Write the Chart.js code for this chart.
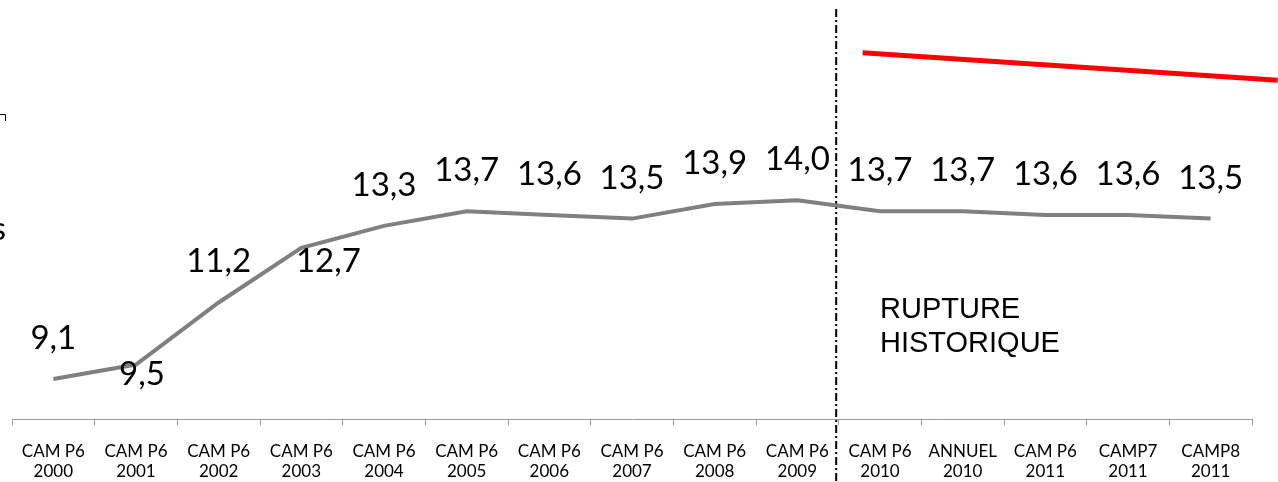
<!DOCTYPE html>
<html>
<head>
<meta charset="utf-8">
<script src="https://cdn.jsdelivr.net/npm/chart.js@4/dist/chart.umd.min.js"></script>
<style>
  html, body { margin: 0; padding: 0; background: #fff; }
  #wrap { width: 1278px; height: 482px; position: relative; overflow: hidden; }
</style>
</head>
<body>
<div id="wrap"><canvas id="chart"></canvas></div>
<script>
const periods = [
  ["CAM P6", "2000"], ["CAM P6", "2001"], ["CAM P6", "2002"], ["CAM P6", "2003"],
  ["CAM P6", "2004"], ["CAM P6", "2005"], ["CAM P6", "2006"], ["CAM P6", "2007"],
  ["CAM P6", "2008"], ["CAM P6", "2009"], ["CAM P6", "2010"], ["ANNUEL", "2010"],
  ["CAM P6", "2011"], ["CAMP7", "2011"], ["CAMP8", "2011"]
];
const values = [9.1, 9.5, 11.2, 12.7, 13.3, 13.7, 13.6, 13.5, 13.9, 14.0, 13.7, 13.7, 13.6, 13.6, 13.5];

// red trend line (x in category index units)
const trendX = [9.79, 14.81];
const trendY = [18.05, 17.29];

// break between series
const breakX = 9.47;
const breakY = [19.25, 6.2];

// nudges for labels that sit off the default spot
const labelShift = { 1: [6, 51], 3: [27, 54] };

const valueLabels = {
  id: "valueLabels",
  afterDatasetsDraw(chart) {
    const { ctx } = chart;
    const meta = chart.getDatasetMeta(0);
    ctx.save();
    ctx.font = "33px Lato";
    ctx.fillStyle = "#000";
    ctx.textAlign = "center";
    ctx.textBaseline = "alphabetic";
    meta.data.forEach((pt, i) => {
      const s = labelShift[i] || [0, 0];
      const txt = values[i].toFixed(1).replace(".", ",");
      ctx.fillText(txt, pt.x + s[0], pt.y - 30 + s[1]);
    });
    ctx.restore();
  }
};

const notes = {
  id: "notes",
  afterDraw(chart) {
    const { ctx } = chart;
    ctx.save();
    ctx.fillStyle = "#000";
    ctx.font = "29px 'Liberation Sans'";
    ctx.textAlign = "left";
    ctx.fillText("RUPTURE", 880, 318);
    ctx.fillText("HISTORIQUE", 880, 352);

    // clipped bits at the left edge
    ctx.font = "33px Lato";
    ctx.textAlign = "right";
    ctx.fillText("s", 6, 240);
    ctx.strokeStyle = "#000";
    ctx.lineWidth = 1;
    ctx.beginPath();
    ctx.moveTo(0, 114.5);
    ctx.lineTo(5.5, 114.5);
    ctx.lineTo(5.5, 121);
    ctx.stroke();
    ctx.restore();
  }
};

new Chart(document.getElementById("chart"), {
  type: "line",
  data: {
    labels: periods,
    datasets: [
      {
        data: values,
        borderColor: "#808080",
        borderWidth: 4,
        pointRadius: 0,
        tension: 0
      },
      {
        data: trendX.map((x, i) => ({ x, y: trendY[i] })),
        xAxisID: "x2",
        borderColor: "#ff0000",
        borderWidth: 5,
        pointRadius: [0, 7],
        pointStyle: "line",
        pointRotation: 90,
        pointBorderColor: "#ff0000",
        pointBorderWidth: 4,
        clip: false
      },
      {
        data: breakY.map(y => ({ x: breakX, y })),
        xAxisID: "x2",
        borderColor: "#000",
        borderWidth: 2,
        borderDash: [8, 3, 2, 3],
        pointRadius: 0,
        clip: false
      }
    ]
  },
  options: {
    responsive: true,
    maintainAspectRatio: false,
    animation: false,
    layout: { padding: { left: 12, right: 26, top: 18, bottom: -16 } },
    plugins: {
      legend: { display: false },
      tooltip: { enabled: false }
    },
    scales: {
      x: {
        offset: true,
        grid: {
          offset: true,
          drawOnChartArea: false,
          drawTicks: true,
          tickLength: 6,
          color: "#9a9a9a"
        },
        border: { display: true, color: "#9a9a9a", width: 1 },
        ticks: {
          color: "#000",
          font: { family: "Lato", size: 17 },
          padding: 16,
          maxRotation: 0,
          autoSkip: false
        }
      },
      x2: {
        type: "linear",
        display: false,
        min: -0.5,
        max: 14.5
      },
      y: {
        display: false,
        min: 8,
        max: 19
      }
    }
  },
  plugins: [valueLabels, notes]
});
</script>
</body>
</html>
